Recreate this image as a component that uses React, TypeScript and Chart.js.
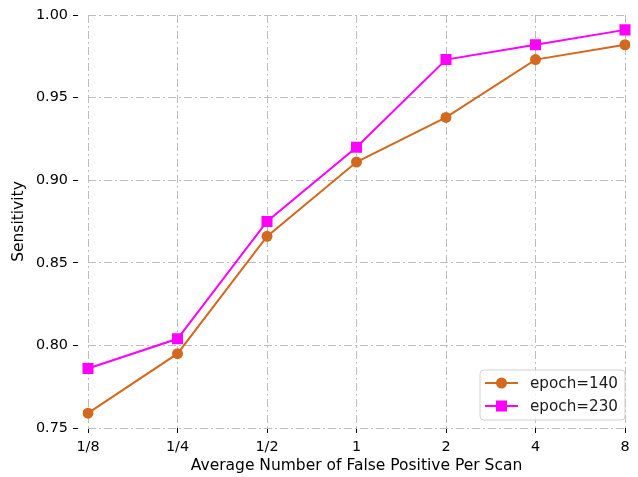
import React, { useEffect, useRef } from "react";
import { Chart, registerables } from "chart.js";

Chart.register(...registerables);

const categories = ["1/8", "1/4", "1/2", "1", "2", "4", "8"];
const epoch140 = [0.759, 0.795, 0.866, 0.911, 0.938, 0.973, 0.982];
const epoch230 = [0.786, 0.804, 0.875, 0.92, 0.973, 0.982, 0.991];
const seriesNames = ["epoch=140", "epoch=230"];
const seriesColors = ["#D2691E", "#FF00FF"];
const yTicks = [0.75, 0.8, 0.85, 0.9, 0.95, 1.0];

const FONT = "'DejaVu Sans', sans-serif";

const legendPlugin = {
  id: "insideLegend",
  afterDraw(chart: any) {
    const { ctx, chartArea } = chart;
    const w = 145;
    const h = 50;
    const x = chartArea.right - w;
    const y = chartArea.bottom - 8 - h;
    ctx.save();
    ctx.beginPath();
    const r = 4;
    ctx.moveTo(x + r, y);
    ctx.lineTo(x + w - r, y);
    ctx.quadraticCurveTo(x + w, y, x + w, y + r);
    ctx.lineTo(x + w, y + h - r);
    ctx.quadraticCurveTo(x + w, y + h, x + w - r, y + h);
    ctx.lineTo(x + r, y + h);
    ctx.quadraticCurveTo(x, y + h, x, y + h - r);
    ctx.lineTo(x, y + r);
    ctx.quadraticCurveTo(x, y, x + r, y);
    ctx.closePath();
    ctx.fillStyle = "rgba(255,255,255,0.85)";
    ctx.fill();
    ctx.strokeStyle = "#d0d0d0";
    ctx.lineWidth = 1;
    ctx.stroke();

    chart.data.datasets.forEach((ds: any, i: number) => {
      const cy = y + 13 + i * 23;
      const lx1 = x + 5;
      const lx2 = x + 38;
      ctx.strokeStyle = ds.borderColor;
      ctx.lineWidth = 2;
      ctx.beginPath();
      ctx.moveTo(lx1, cy);
      ctx.lineTo(lx2, cy);
      ctx.stroke();
      ctx.fillStyle = ds.borderColor;
      const mx = (lx1 + lx2) / 2;
      if (ds.pointStyle === "rect") {
        ctx.fillRect(mx - 5.5, cy - 5.5, 11, 11);
      } else {
        ctx.beginPath();
        ctx.arc(mx, cy, 5.5, 0, Math.PI * 2);
        ctx.fill();
      }
      ctx.fillStyle = "#1a1a1a";
      ctx.font = `15.2px ${FONT}`;
      ctx.textBaseline = "middle";
      ctx.textAlign = "left";
      ctx.fillText(ds.label, x + 50, cy + 1);
    });
    ctx.restore();
  },
};

export default function App() {
  const ref = useRef<HTMLCanvasElement>(null);
  useEffect(() => {
    if (!ref.current) return;
    const chart = new Chart(ref.current, {
      type: "line",
      data: {
        labels: categories,
        datasets: [
          {
            label: seriesNames[0],
            data: epoch140,
            borderColor: seriesColors[0],
            backgroundColor: seriesColors[0],
            borderWidth: 2,
            pointStyle: "circle",
            pointRadius: 5.5,
            pointBorderWidth: 0,
            tension: 0,
          },
          {
            label: seriesNames[1],
            data: epoch230,
            borderColor: seriesColors[1],
            backgroundColor: seriesColors[1],
            borderWidth: 2,
            pointStyle: "rect",
            pointRadius: 7.8,
            pointBorderWidth: 0,
            tension: 0,
          },
        ],
      },
      options: {
        responsive: false,
        animation: false,
        layout: { padding: { top: 15, right: 13, left: 0, bottom: 0 } },
        plugins: {
          legend: { display: false },
          tooltip: { enabled: false },
        },
        scales: {
          x: {
            type: "category",
            offset: false,
            afterFit: (s: any) => {
              s.height = 49;
            },
            grid: {
              color: "#bdbdbd",
              lineWidth: 1,
              tickColor: "#000",
              tickLength: 5,
              tickWidth: 1,
            },
            border: { display: false, dash: [8, 3, 2, 3] },
            ticks: {
              color: "#000",
              font: { family: FONT, size: 14.4 },
              padding: 6,
              maxRotation: 0,
            },
            title: {
              display: true,
              text: "Average Number of False Positive Per Scan",
              color: "#000",
              font: { family: FONT, size: 15.5 },
              padding: { top: 0, bottom: 2 },
            },
          },
          y: {
            min: 0.75,
            max: 1.0,
            afterFit: (s: any) => {
              s.width = 88;
            },
            afterBuildTicks: (s: any) => {
              s.ticks = yTicks.map((v) => ({ value: v }));
            },
            grid: {
              color: "#bdbdbd",
              lineWidth: 1,
              tickColor: "#000",
              tickLength: 15,
              tickWidth: 1,
              tickBorderDash: [5, 20],
            },
            border: { display: false, dash: [8, 3, 2, 3] },
            ticks: {
              color: "#000",
              font: { family: FONT, size: 14.4 },
              padding: 5,
              callback: (v: any) => Number(v).toFixed(2),
            },
            title: {
              display: true,
              text: "Sensitivity",
              color: "#000",
              font: { family: FONT, size: 15.5 },
              padding: { top: 10, bottom: 0 },
            },
          },
        },
      },
      plugins: [legendPlugin],
    });
    return () => chart.destroy();
  }, []);
  return (
    <div style={{ position: "fixed", left: 0, top: 0, width: 638, height: 477, background: "#fff" }}>
      <canvas ref={ref} width={638} height={477} />
    </div>
  );
}
